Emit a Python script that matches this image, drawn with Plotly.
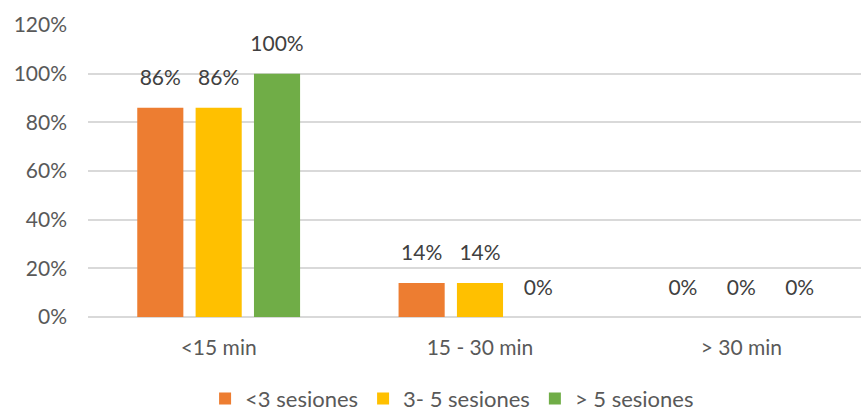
import plotly.graph_objects as go

categories = ["<15 min", "15 - 30 min", "> 30 min"]
series_names = ["<3 sesiones", "3- 5 sesiones", "> 5 sesiones"]
v_lt3 = [0.86, 0.14, 0.0]
v_3to5 = [0.86, 0.14, 0.0]
v_gt5 = [1.00, 0.0, 0.0]
colors = ["#ED7D31", "#FFC000", "#70AD47"]
tick_vals = [0, 0.2, 0.4, 0.6, 0.8, 1.0, 1.2]
tick_text = ["0%", "20%", "40%", "60%", "80%", "100%", "120%"]

FONT = "Lato, Carlito, Calibri, sans-serif"
GAP = 0.33

fig = go.Figure()
for i, (name, vals, c) in enumerate(zip(series_names, [v_lt3, v_3to5, v_gt5], colors)):
    fig.add_trace(go.Bar(
        x=categories, y=vals, name=name, offsetgroup=str(i),
        marker=dict(color=c, line=dict(width=0)),
        hoverinfo="skip",
    ))
for i, vals in enumerate([v_lt3, v_3to5, v_gt5]):
    fig.add_trace(go.Scatter(
        x=categories, y=vals, offsetgroup=str(i), mode="markers+text",
        marker=dict(size=26, opacity=0),
        text=[f"{v*100:.0f}%" for v in vals],
        textposition="top center",
        textfont=dict(family=FONT, size=21, color="#404040"),
        showlegend=False, cliponaxis=False, hoverinfo="skip",
    ))

fig.update_layout(
    width=861, height=412,
    margin=dict(l=88, r=0, t=25, b=95, autoexpand=False),
    paper_bgcolor="white", plot_bgcolor="white",
    barmode="group", bargap=GAP, bargroupgap=0.21,
    scattermode="group", scattergap=GAP,
    font=dict(family=FONT, size=21, color="#595959"),
    showlegend=True,
    legend=dict(orientation="h", x=0.471, xanchor="center", y=-0.28, yanchor="middle",
                font=dict(family=FONT, size=22, color="#595959"),
                itemwidth=30, traceorder="normal"),
)
fig.update_xaxes(showgrid=False, showline=False, ticks="", range=[-0.5, 2.458],
                 ticklabelstandoff=16, automargin=False,
                 tickfont=dict(family=FONT, size=21, color="#595959"))
fig.update_yaxes(range=[0, 1.2], tickvals=tick_vals, ticktext=tick_text,
                 showgrid=True, gridcolor="#D9D9D9", gridwidth=1.5,
                 zeroline=True, zerolinecolor="#D9D9D9", zerolinewidth=1.5,
                 showline=False, ticks="", ticklabelstandoff=20, automargin=False,
                 tickfont=dict(family=FONT, size=21, color="#595959"))

fig.write_html("out.html", config={"displayModeBar": False},
               post_script="document.body.style.margin='0';document.body.style.overflow='hidden';")
